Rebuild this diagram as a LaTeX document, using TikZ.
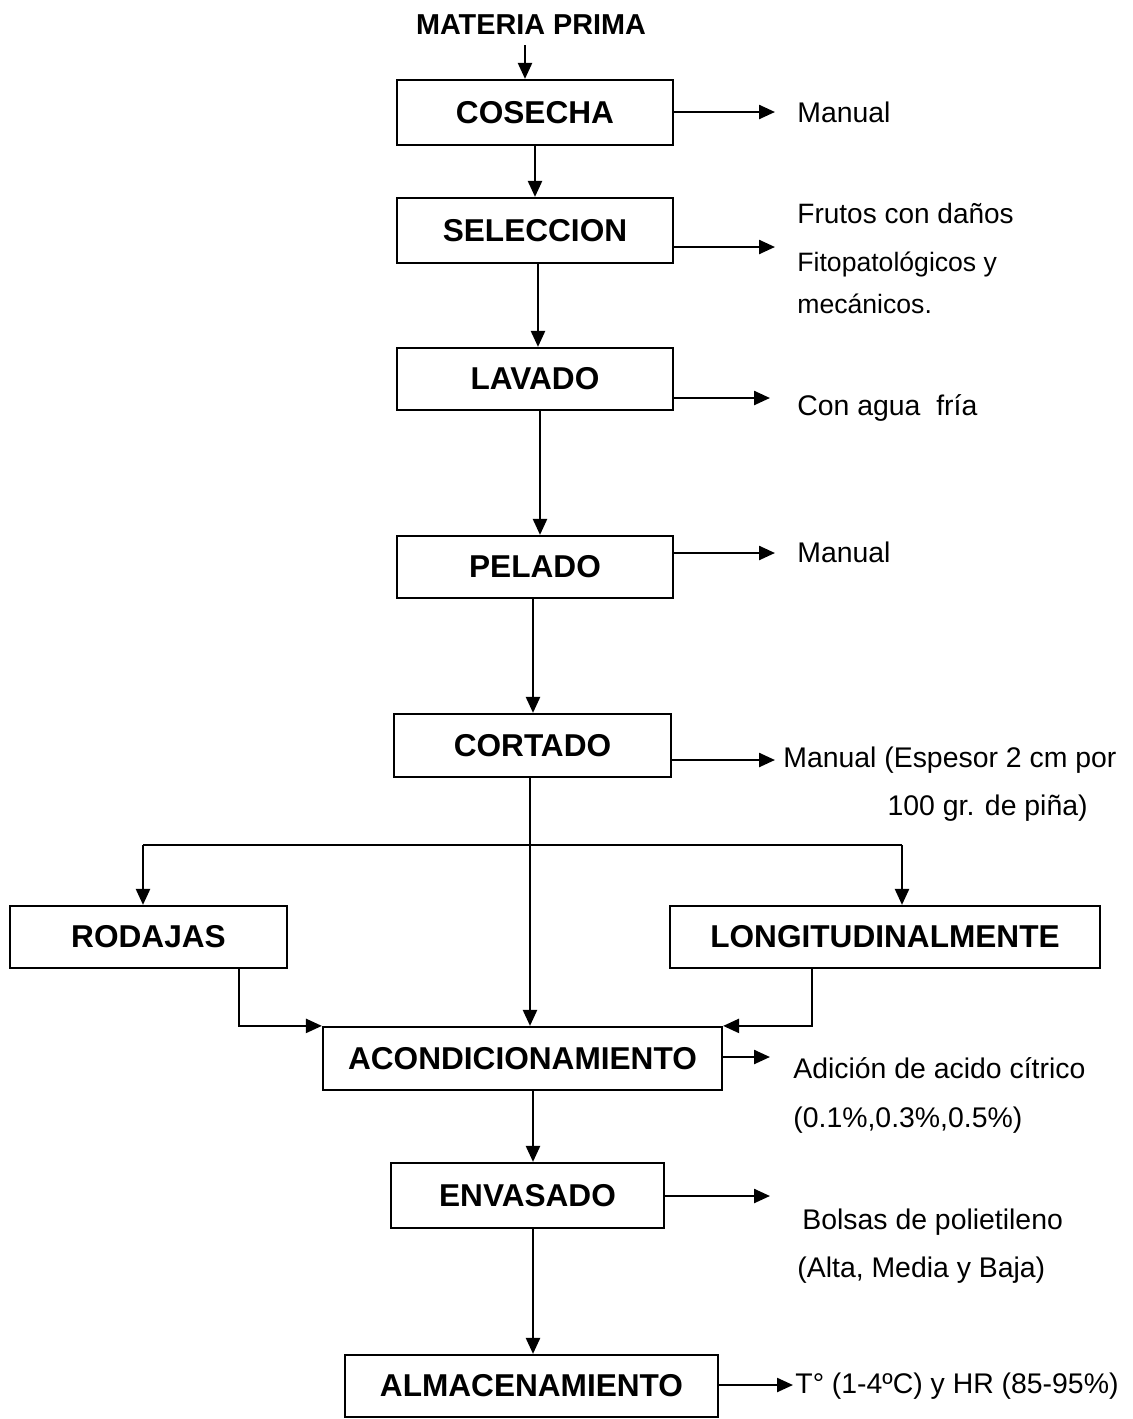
\documentclass[tikz,border=0pt]{standalone}
\usepackage{fontspec}
\setmainfont{Liberation Sans}
\usetikzlibrary{arrows.meta}
\begin{document}
\begin{tikzpicture}[x=0.5pt,y=-0.5pt,
 box/.style={draw,line width=1.1pt,inner sep=0pt,font=\fontsize{15.8}{18}\selectfont\bfseries},
 arr/.style={line width=1.2pt,-{Triangle[length=8pt,width=7pt]}},
 ln/.style={line width=1.2pt},
 side/.style={anchor=base west,inner sep=0pt,font=\fontsize{14.2}{17}\selectfont},
 sides/.style={side,font=\fontsize{13.3}{16}\selectfont}]
\useasboundingbox (0,0) rectangle (1132,1419);
% title
\node[font=\fontsize{14.4}{16}\selectfont\bfseries,inner sep=0pt] (mp) at (531,25) {MATERIA PRIMA};
% boxes
\node[box,minimum width=138pt,minimum height=32.5pt] (cos) at (535,112.5) {COSECHA};
\node[box,minimum width=138pt,minimum height=32.5pt] (sel) at (535,230.5) {SELECCION};
\node[box,minimum width=138pt,minimum height=31pt] (lav) at (535,379) {LAVADO};
\node[box,minimum width=138pt,minimum height=31pt] (pel) at (535,567) {PELADO};
\node[box,minimum width=138.5pt,minimum height=31.5pt] (cor) at (532.5,745.5) {CORTADO};
\node[box,minimum width=138.5pt,minimum height=31pt] (rod) at (148.5,937) {RODAJAS};
\node[box,minimum width=215pt,minimum height=31pt] (lon) at (885,937) {LONGITUDINALMENTE};
\node[box,minimum width=199.5pt,minimum height=31.5pt] (aco) at (522.5,1058.5) {ACONDICIONAMIENTO};
\node[box,minimum width=136.5pt,minimum height=32.5pt] (env) at (527.5,1195.5) {ENVASADO};
\node[box,minimum width=186.5pt,minimum height=31pt] (alm) at (531.5,1386) {ALMACENAMIENTO};
% side texts
\node[side] (t1) at (797,122) {Manual};
\node[side,font=\fontsize{14}{16}\selectfont] (t2a) at (797,223) {Frutos con daños};
\node[sides] (t2b) at (797,271) {Fitopatológicos y};
\node[sides] (t2c) at (797,313) {mecánicos.};
\node[side] (t3) at (797,415) {Con agua\ \ fría};
\node[side] (t4) at (797,562) {Manual};
\node[side] (t5a) at (783,767) {Manual (Espesor 2 cm por};
\node[side,anchor=base east] (t5b) at (1088,815) {100 gr. de piña)};
\node[side] (t6a) at (793,1078) {Adición de acido cítrico};
\node[side] (t6b) at (793,1127) {(0.1\%,0.3\%,0.5\%)};
\node[side] (t7a) at (802,1229) {Bolsas de polietileno};
\node[side] (t7b) at (797,1277) {(Alta, Media y Baja)};
\node[side] (t8) at (795,1393) {T° (1-4ºC) y HR (85-95\%)};
% side arrow ends
\coordinate (e1) at (775,112);
\coordinate (e2) at (775,247);
\coordinate (e3) at (770,398);
\coordinate (e4) at (775,553);
\coordinate (e5) at (775,760);
\coordinate (e6) at (770,1057);
\coordinate (e7) at (770,1196);
\coordinate (e8) at (793,1385);
\draw[arr] (cos.east |- e1) -- (e1);
\draw[arr] (sel.east |- e2) -- (e2);
\draw[arr] (lav.east |- e3) -- (e3);
\draw[arr] (pel.east |- e4) -- (e4);
\draw[arr] (cor.east |- e5) -- (e5);
\draw[arr] (aco.east |- e6) -- (e6);
\draw[arr] (env.east |- e7) -- (e7);
\draw[arr] (alm.east |- e8) -- (e8);
% main flow
\coordinate (m0) at (525,45);
\draw[arr] (m0) -- (m0 |- cos.north);
\draw[arr] (cos.south) -- (cos.south |- sel.north);
\coordinate (m2) at (538,263);
\draw[arr] (m2) -- (m2 |- lav.north);
\coordinate (m3) at (540,410);
\draw[arr] (m3) -- (m3 |- pel.north);
\coordinate (m4) at (533,598);
\draw[arr] (m4) -- (m4 |- cor.north);
\coordinate (m5) at (530,777);
\draw[arr] (m5) -- (m5 |- aco.north);
% branches
\coordinate (bl) at (143,845);
\coordinate (br) at (902,845);
\draw[ln] (bl) -- (br);
\draw[arr] (bl) -- (bl |- rod.north);
\draw[arr] (br) -- (br |- lon.north);
\coordinate (r1) at (239,968);
\draw[arr] (r1) |- (aco.north west);
\coordinate (l1) at (812,968);
\draw[arr] (l1) |- (aco.north east);
\coordinate (m6) at (533,1090);
\draw[arr] (m6) -- (m6 |- env.north);
\coordinate (m7) at (533,1228);
\draw[arr] (m7) -- (m7 |- alm.north);
\end{tikzpicture}
\end{document}
